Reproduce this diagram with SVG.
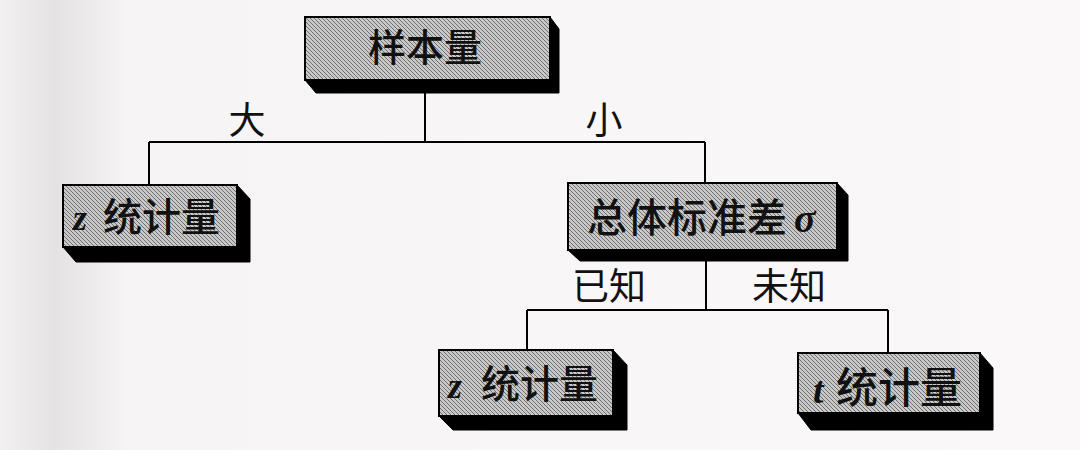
<svg xmlns="http://www.w3.org/2000/svg" width="1080" height="450" viewBox="0 0 1080 450">
  <defs>
    <linearGradient id="paper" x1="0" y1="0" x2="1" y2="0">
      <stop offset="0" stop-color="#f2f0f0"/>
      <stop offset="0.05" stop-color="#e4e2e2"/>
      <stop offset="0.12" stop-color="#f6f4f4"/>
      <stop offset="1" stop-color="#faf8f8"/>
    </linearGradient>
    <pattern id="hatch" width="4" height="4" patternUnits="userSpaceOnUse">
      <rect width="4" height="4" fill="#c8c8c8"/>
      <path d="M0,0 L4,4 M-1,3 L1,5 M3,-1 L5,1" stroke="#707070" stroke-width="1"/>
    </pattern>
    <style>
      .face { fill: url(#hatch); stroke: #000; stroke-width: 2; }
      .ext { fill: #000; stroke: #000; stroke-width: 1; stroke-linejoin: round; }
      .cn { font-family: "Noto Sans CJK SC", sans-serif; font-weight: 500; fill: #111; }
      .var { font-family: "Liberation Serif", serif; font-style: italic; font-weight: bold; fill: #111; }
      .lbl { font-family: "Noto Sans CJK SC", sans-serif; font-size: 37px; fill: #111; }
      .conn { stroke: #000; stroke-width: 2; fill: none; }
    </style>
  </defs>
  <rect width="1080" height="450" fill="url(#paper)"/>

  <g id="connectors">
    <path class="conn" d="M425,80 V142 M149,142 H705 M149,142 V185 M705,142 V183"/>
    <path class="conn" d="M706,250 V310 M527,310 H888 M527,310 V350 M888,310 V353"/>
    <text class="lbl" x="247" y="134" text-anchor="middle">大</text>
    <text class="lbl" x="604" y="134" text-anchor="middle">小</text>
    <text class="lbl" x="572" y="300">已知</text>
    <text class="lbl" x="752" y="300">未知</text>
  </g>

  <g id="node-sample">
    <polygon class="ext" points="305,80 550,80 550,17 559,29 559,93 316,93"/>
    <rect class="face" x="305" y="17" width="245" height="63"/>
    <text class="cn" x="425" y="61" font-size="38" text-anchor="middle">样本量</text>
  </g>

  <g id="node-z1">
    <polygon class="ext" points="63,247 237,247 237,185 250,199 250,262 76,262"/>
    <rect class="face" x="63" y="185" width="174" height="62"/>
    <text class="var" x="73" y="230" font-size="36">z</text>
    <text class="cn" x="103" y="231" font-size="39">统计量</text>
  </g>

  <g id="node-sigma">
    <polygon class="ext" points="568,250 837,250 837,183 848,195 848,261 580,261"/>
    <rect class="face" x="568" y="183" width="269" height="67"/>
    <text class="cn" x="587" y="232" font-size="40">总体标准差</text>
    <text class="var" x="794" y="232" font-size="40">σ</text>
  </g>

  <g id="node-z2">
    <polygon class="ext" points="439,416 613,416 613,350 627,365 627,430 453,430"/>
    <rect class="face" x="439" y="350" width="174" height="66"/>
    <text class="var" x="448" y="398" font-size="36">z</text>
    <text class="cn" x="481" y="398" font-size="39">统计量</text>
  </g>

  <g id="node-t">
    <polygon class="ext" points="798,413 980,413 980,353 993,368 993,430 811,430"/>
    <rect class="face" x="798" y="353" width="182" height="60"/>
    <text class="var" x="813" y="403" font-size="38">t</text>
    <text class="cn" x="836" y="403" font-size="42">统计量</text>
  </g>
</svg>
